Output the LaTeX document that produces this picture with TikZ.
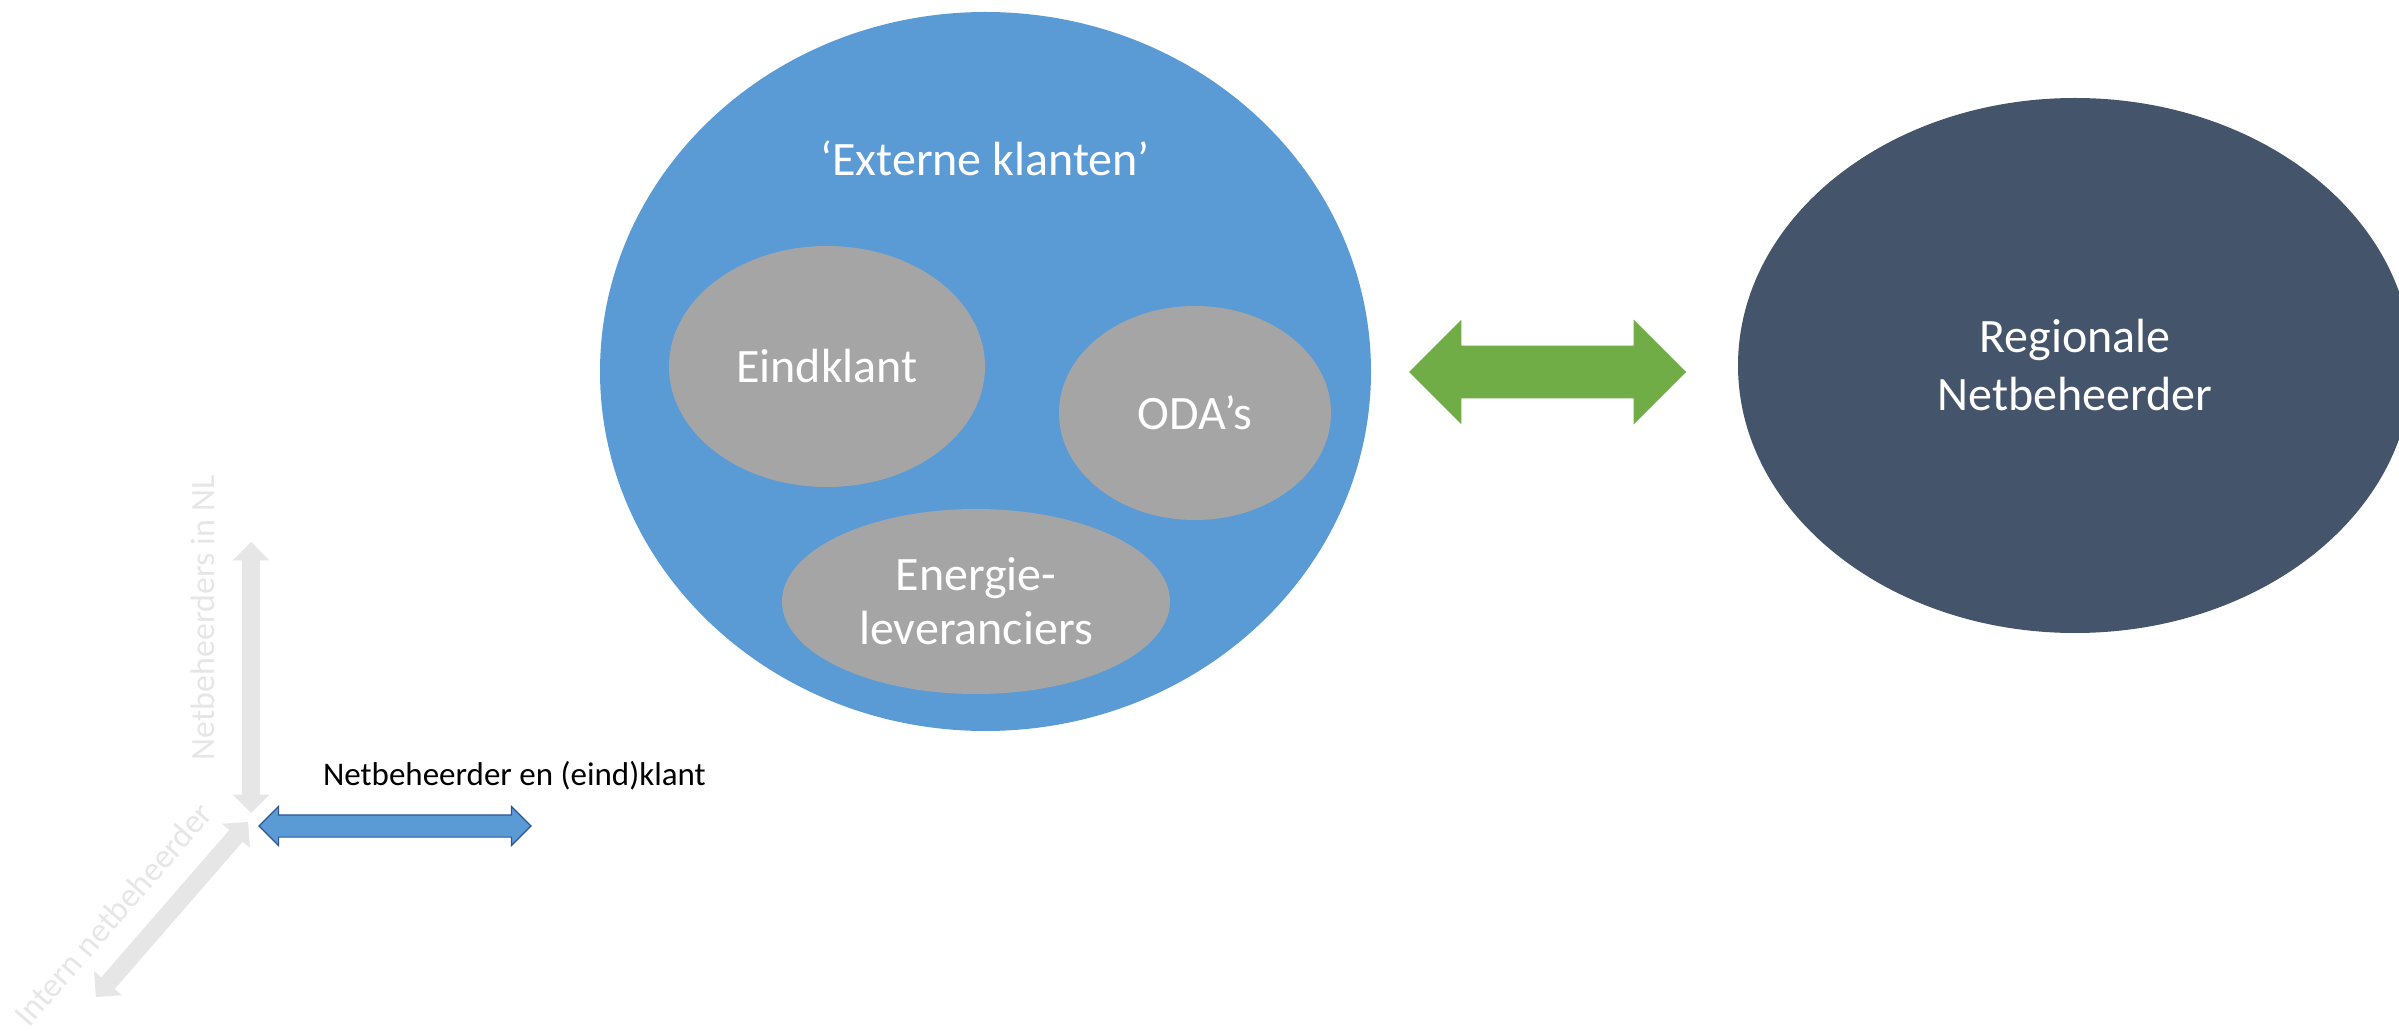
\documentclass[tikz,border=0pt]{standalone}
\usepackage{fontspec}
\setmainfont{Carlito}
\usetikzlibrary{shapes,arrows}

\definecolor{klantblauw}{HTML}{5B9BD5}
\definecolor{rand}{HTML}{2F5597}
\definecolor{grijs}{HTML}{A5A5A5}
\definecolor{leisteen}{HTML}{44546A}
\definecolor{groen}{HTML}{70AD47}
\definecolor{as}{HTML}{E7E6E6}

\tikzstyle{groep} = [ellipse, fill=klantblauw, inner sep=0pt]
\tikzstyle{partij} = [ellipse, fill=grijs, text=white, inner sep=0pt, align=center, font=\fontsize{24}{27}\selectfont]
\tikzstyle{beheerder} = [ellipse, fill=leisteen, text=white, inner sep=0pt, align=center, font=\fontsize{24}{29}\selectfont]
\tikzstyle{pijl} = [double arrow, inner xsep=0pt, minimum width=0pt, double arrow head indent=0pt]
\tikzstyle{aspijl} = [pijl, fill=as, inner ysep=4.25pt, double arrow head extend=4.75pt]
\tikzstyle{aslabel} = [text=as, font=\fontsize{17}{20}\selectfont]

\begin{document}
\begin{tikzpicture}[x=0.5pt,y=-0.5pt,auto,node distance=72pt]
	\useasboundingbox (0,0) rectangle (2399,1031);

	% put the groups and parties where we want them
	\node [groep,minimum width=385.5pt,minimum height=359.5pt] (klanten) at (985.5,371.5) {};
	\node [text=white,font=\fontsize{24}{28}\selectfont] (titel) at (985,158) {‘Externe klanten’};
	\node [partij,minimum width=158pt,minimum height=120.5pt] (eindklant) at (827,366.5) {Eindklant};
	\node [partij,minimum width=136pt,minimum height=107pt] (oda) at (1195,413) {ODA’s};
	\node [partij,minimum width=194pt,minimum height=92.5pt] (energie) at (976,601.5) {Energie-\\leveranciers};
	\node [beheerder,minimum width=337pt,minimum height=267.5pt] (regio) at (2075,365.5) {Regionale\\Netbeheerder};

	% link between klanten and regio
	\node [pijl,fill=groen,inner ysep=13pt,double arrow head extend=13pt,minimum height=138.5pt] (link) at (1547.5,372) {};

	% the axes
	\node [coordinate] (oorsprong) at (251,826) {};
	\node [aspijl,rotate=90,minimum height=135.5pt] (nlpijl) at (251,677.5) {};
	\node [aspijl,rotate=49,minimum height=116pt] (internpijl) at (172,909.5) {};
	\node [pijl,fill=klantblauw,draw=rand,line width=0.6pt,inner ysep=5.25pt,double arrow head extend=4.25pt,minimum height=136pt,right of=oorsprong] (klantpijl) {};

	% axis labels
	\node [aslabel,rotate=90] (nllabel) at (203,618) {Netbeheerders in NL};
	\node [aslabel,rotate=49] (internlabel) at (113,914) {Intern netbeheerder};
	\node [anchor=base west,font=\fontsize{16.5}{19}\selectfont] (klantlabel) at (316,785) {Netbeheerder en (eind)klant};
\end{tikzpicture}
\end{document}
